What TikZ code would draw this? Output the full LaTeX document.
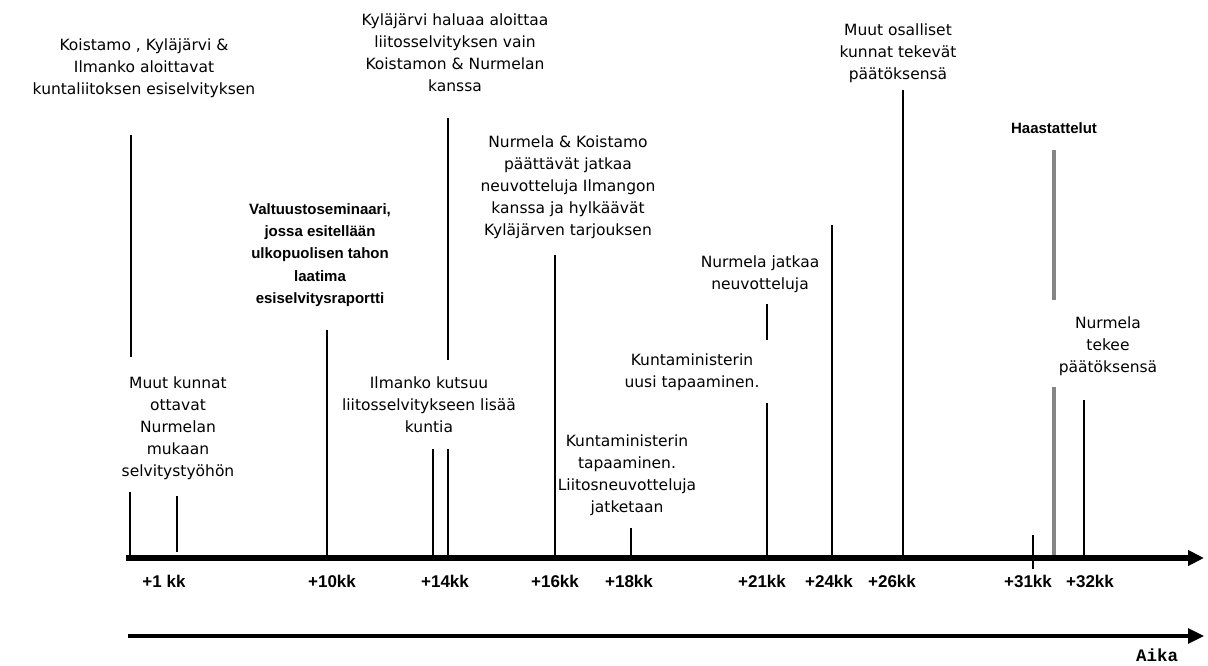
\documentclass[tikz,border=0pt]{standalone}
\usepackage{fontspec}
\setmainfont{DejaVu Sans}
\newfontfamily\lbsans{Liberation Sans}
\newfontfamily\lbmono{Liberation Mono}
\usetikzlibrary{arrows.meta}

\tikzset{
  event/.style={align=center, inner sep=0pt, font=\fontsize{15.5}{22}\selectfont},
  boldevent/.style={align=center, inner sep=0pt, font=\lbsans\bfseries\fontsize{15}{22.3}\selectfont},
  ticklabel/.style={inner sep=0pt, font=\lbsans\bfseries\fontsize{17}{19}\selectfont},
  evline/.style={line width=2.8pt},
  greyline/.style={line width=4pt, draw=black!48},
  mainaxis/.style={line width=6pt, -{Triangle[length=16pt,width=15pt]}},
  timeaxis/.style={line width=3.2pt, -{Triangle[length=16pt,width=15pt]}},
}

\begin{document}
\begin{tikzpicture}[x=1pt,y=-1pt]
\useasboundingbox (0,0) rectangle (1208,666);

% event texts
\node[event] (koistamo) at (144,68) {Koistamo , Kyläjärvi \&\\Ilmanko aloittavat\\kuntaliitoksen esiselvityksen};
\node[event] (kylajarvi) at (455,53) {Kyläjärvi haluaa aloittaa\\liitosselvityksen vain\\Koistamon \& Nurmelan\\kanssa};
\node[boldevent] (valtuusto) at (320,255) {Valtuustoseminaari,\\jossa esitellään\\ulkopuolisen tahon\\laatima\\esiselvitysraportti};
\node[event] (nurmkois) at (568,187) {Nurmela \& Koistamo\\päättävät jatkaa\\neuvotteluja Ilmangon\\kanssa ja hylkäävät\\Kyläjärven tarjouksen};
\node[event] (muut) at (178,428) {Muut kunnat\\ottavat\\Nurmelan\\mukaan\\selvitystyöhön};
\node[event] (ilmanko) at (429,405) {Ilmanko kutsuu\\liitosselvitykseen lisää\\kuntia};
\node[event] (kmin1) at (627,475) {Kuntaministerin\\tapaaminen.\\Liitosneuvotteluja\\jatketaan};
\node[event] (kmin2) at (692,372) {Kuntaministerin\\uusi tapaaminen.};
\node[event] (njatkaa) at (760,274) {Nurmela jatkaa\\neuvotteluja};
\node[event] (muutos) at (898,53) {Muut osalliset\\kunnat tekevät\\päätöksensä};
\node[boldevent] (haast) at (1054,128) {Haastattelut};
\node[event] (ntekee) at (1108,346) {Nurmela\\tekee\\päätöksensä};

% axis points
\coordinate (a0) at (130,558);
\coordinate (a1) at (177,552);
\coordinate (a10) at (327,558);
\coordinate (a13) at (433,558);
\coordinate (a14) at (448,558);
\coordinate (a16) at (555,558);
\coordinate (a18) at (631,558);
\coordinate (a21) at (767,558);
\coordinate (a24) at (832,558);
\coordinate (a26) at (903,558);
\coordinate (a31) at (1033,569);
\coordinate (ag) at (1054,558);
\coordinate (a32) at (1084,558);

% upper ends of the event lines
\coordinate (u0) at (131,135);
\coordinate (u0b) at (131,357);
\coordinate (u0c) at (130,492);
\coordinate (u1) at (177,496);
\coordinate (u10) at (327,330);
\coordinate (u13) at (433,449);
\coordinate (u14) at (448,118);
\coordinate (u14b) at (448,360);
\coordinate (u14c) at (448,449);
\coordinate (u16) at (555,255);
\coordinate (u18) at (631,528);
\coordinate (u21) at (767,304);
\coordinate (u21b) at (767,340);
\coordinate (u21c) at (767,403);
\coordinate (u24) at (832,225);
\coordinate (u26) at (903,90);
\coordinate (u31) at (1033,535);
\coordinate (ug) at (1054,150);
\coordinate (ugb) at (1054,300);
\coordinate (ugc) at (1054,387);
\coordinate (u32) at (1084,400);

% event lines
\draw[evline] (u0) -- (u0b);
\draw[evline] (u0c) -- (a0);
\draw[evline] (u1) -- (a1);
\draw[evline] (u10) -- (a10);
\draw[evline] (u13) -- (a13);
\draw[evline] (u14) -- (u14b);
\draw[evline] (u14c) -- (a14);
\draw[evline] (u16) -- (a16);
\draw[evline] (u18) -- (a18);
\draw[evline] (u21) -- (u21b);
\draw[evline] (u21c) -- (a21);
\draw[evline] (u24) -- (a24);
\draw[evline] (u26) -- (a26);
\draw[evline] (u31) -- (a31);
\draw[greyline] (ug) -- (ugb);
\draw[greyline] (ugc) -- (ag);
\draw[evline] (u32) -- (a32);

% month axis
\coordinate (axstart) at (126,558);
\coordinate (axend) at (1204,558);
\draw[mainaxis] (axstart) -- (axend);

% month labels
\node[ticklabel] (t1) at (164,581) {+1 kk};
\node[ticklabel] (t10) at (332,581) {+10kk};
\node[ticklabel] (t14) at (445,581) {+14kk};
\node[ticklabel] (t16) at (555,581) {+16kk};
\node[ticklabel] (t18) at (629,581) {+18kk};
\node[ticklabel] (t21) at (762,581) {+21kk};
\node[ticklabel] (t24) at (829,581) {+24kk};
\node[ticklabel] (t26) at (892,581) {+26kk};
\node[ticklabel] (t31) at (1028,581) {+31kk};
\node[ticklabel] (t32) at (1090,581) {+32kk};

% time arrow
\coordinate (tstart) at (128,636);
\coordinate (tend) at (1204,636);
\draw[timeaxis] (tstart) -- (tend);
\node[inner sep=0pt, font=\lbmono\bfseries\fontsize{17.5}{20}\selectfont] (aika) at (1157,655) {Aika};
\end{tikzpicture}
\end{document}
